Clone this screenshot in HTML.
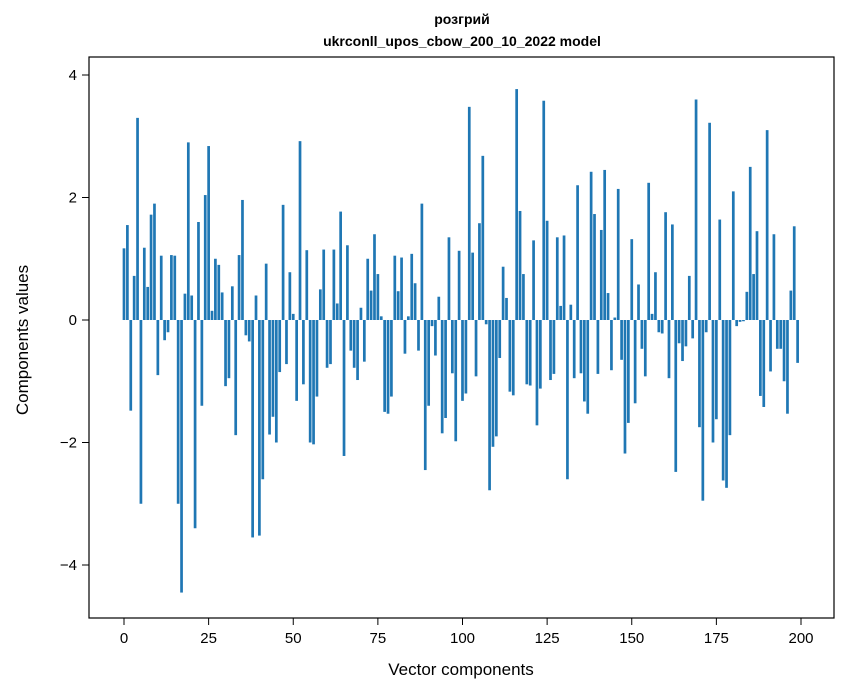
<!DOCTYPE html>
<html><head><meta charset="utf-8"><style>
body{margin:0;background:#fff;}
svg{display:block;font-family:"Liberation Sans",sans-serif;}
</style></head><body>
<svg id="chart" width="847" height="696" viewBox="0 0 847 696" xmlns="http://www.w3.org/2000/svg">
<rect width="847" height="696" fill="#fff"/>
<text x="462" y="24" text-anchor="middle" font-size="14" font-weight="bold" font-family="'Liberation Sans','DejaVu Sans',sans-serif">розгрий</text>
<text x="462" y="46" text-anchor="middle" font-size="14" font-weight="bold">ukrconll_upos_cbow_200_10_2022 model</text>
<g id="bars"></g>
<rect x="89" y="57" width="745" height="561" fill="none" stroke="#000" stroke-width="1.2"/>
<g id="xticks"></g>
<g id="yticks"></g>
<text x="461" y="675" text-anchor="middle" font-size="17">Vector components</text>
<text x="0" y="0" transform="translate(28,340) rotate(-90)" text-anchor="middle" font-size="17">Components values</text>
</svg>
<script>
const values = [1.17,1.55,-1.48,0.72,3.3,-3.0,1.18,0.54,1.72,1.9,
-0.9,1.05,-0.33,-0.2,1.06,1.05,-3.0,-4.45,0.43,2.9,
0.4,-3.4,1.6,-1.4,2.04,2.84,0.15,1.0,0.9,0.45,
-1.08,-0.95,0.55,-1.88,1.06,1.96,-0.25,-0.35,-3.55,0.4,
-3.52,-2.6,0.92,-1.87,-1.58,-2.0,-0.85,1.88,-0.72,0.78,
0.1,-1.32,2.92,-1.05,1.14,-2.0,-2.03,-1.25,0.5,1.15,
-0.78,-0.72,1.15,0.27,1.77,-2.22,1.22,-0.5,-0.78,-0.98,
0.2,-0.68,1.0,0.48,1.4,0.75,0.06,-1.5,-1.53,-1.25,
1.05,0.47,1.02,-0.55,0.06,1.08,0.6,-0.5,1.9,-2.45,
-1.4,-0.1,-0.58,0.38,-1.85,-1.6,1.35,-0.87,-1.98,1.13,
-1.32,-1.2,3.48,1.1,-0.92,1.58,2.68,-0.07,-2.78,-2.07,
-1.9,-0.62,0.87,0.36,-1.17,-1.23,3.77,1.78,0.75,-1.05,
-1.07,1.3,-1.72,-1.12,3.58,1.62,-0.98,-0.88,1.35,0.23,
1.38,-2.6,0.25,-0.95,2.2,-0.87,-1.33,-1.53,2.42,1.73,
-0.88,1.47,2.45,0.44,-0.82,0.04,2.14,-0.65,-2.18,-1.68,
1.32,-1.36,0.58,-0.47,-0.92,2.24,0.1,0.78,-0.2,-0.22,
1.76,-0.95,1.56,-2.48,-0.38,-0.67,-0.43,0.72,-0.3,3.6,
-1.75,-2.95,-0.2,3.22,-2.0,-1.62,1.64,-2.62,-2.74,-1.88,
2.1,-0.1,-0.03,-0.02,0.46,2.5,0.75,1.45,-1.24,-1.42,
3.1,-0.84,1.4,-0.47,-0.47,-1.0,-1.53,0.48,1.53,-0.7];
const xTickLabels = [0,25,50,75,100,125,150,175,200];
const yTickLabels = [-4,-2,0,2,4];
const NS = "http://www.w3.org/2000/svg";
function xs(v){return 124 + (801-124)*v/200;}
function ys(v){return 320 - 61.25*v;}
const bw = (xs(0.8)-xs(0));
const bars = document.getElementById('bars');
values.forEach((v,i)=>{
  const r = document.createElementNS(NS,'rect');
  
  
  r.setAttribute('x', xs(i)-bw/2);
  r.setAttribute('y', Math.min(ys(v), ys(0)));
  r.setAttribute('width', bw);
  r.setAttribute('height', Math.abs(ys(v)-ys(0)));
  r.setAttribute('fill', '#1f77b4');
  bars.appendChild(r);
});
const xg = document.getElementById('xticks');
xTickLabels.forEach(t=>{
  const l = document.createElementNS(NS,'line');
  
  
  l.setAttribute('x1', xs(t)); l.setAttribute('x2', xs(t));
  l.setAttribute('y1', 618); l.setAttribute('y2', 625);
  l.setAttribute('stroke', '#000');
  xg.appendChild(l);
  const tx = document.createElementNS(NS,'text');
  
  
  tx.setAttribute('x', xs(t)); tx.setAttribute('y', 643);
  tx.setAttribute('text-anchor', 'middle'); tx.setAttribute('font-size', '15');
  tx.textContent = t;
  xg.appendChild(tx);
});
const yg = document.getElementById('yticks');
yTickLabels.forEach(t=>{
  const l = document.createElementNS(NS,'line');
  
  
  l.setAttribute('x1', 82); l.setAttribute('x2', 89);
  l.setAttribute('y1', ys(t)); l.setAttribute('y2', ys(t));
  l.setAttribute('stroke', '#000');
  yg.appendChild(l);
  const tx = document.createElementNS(NS,'text');
  
  
  tx.setAttribute('x', 77); tx.setAttribute('y', ys(t)+5);
  tx.setAttribute('text-anchor', 'end'); tx.setAttribute('font-size', '15');
  tx.textContent = t < 0 ? '\u2212' + Math.abs(t) : String(t);
  yg.appendChild(tx);
});
</script>
</body></html>
